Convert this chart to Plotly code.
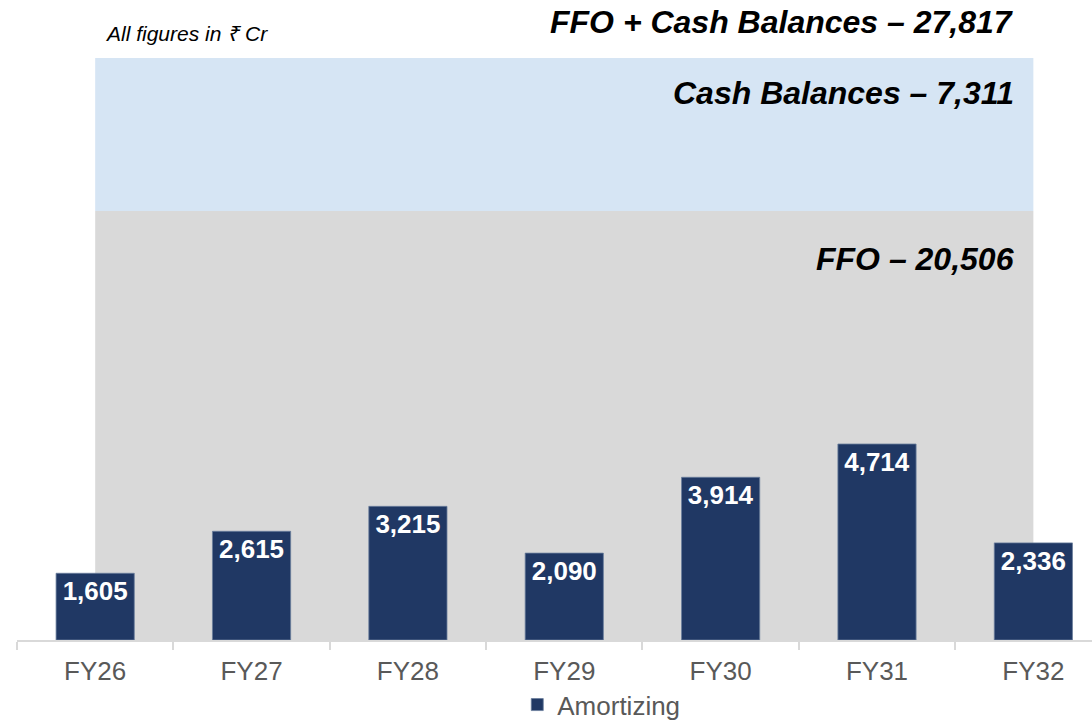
import plotly.graph_objects as go

# ---- data ----
categories = ["FY26", "FY27", "FY28", "FY29", "FY30", "FY31", "FY32"]
amortizing = [1605, 2615, 3215, 2090, 3914, 4714, 2336]
series_name = "Amortizing"
ffo_label = "FFO – 20,506"
cash_label = "Cash Balances – 7,311"
total_label = "FFO + Cash Balances – 27,817"
unit_note = "All figures in ₹ Cr"

FONT = "Liberation Sans, Arial, Helvetica, sans-serif"
BAR = "#203864"
GREY_BAND = "#d9d9d9"
BLUE_BAND = "#d6e5f4"
TXT = "#595959"

fig = go.Figure()
fig.add_trace(go.Bar(
    x=categories, y=amortizing, name=series_name,
    width=0.5,
    marker=dict(color=BAR, line=dict(color="#6a7d9c", width=0.8)),
    texttemplate="<b>%{y:,}</b>",
    textposition="inside", insidetextanchor="end",
    constraintext="none",
    textfont=dict(color="white", size=26, family=FONT),
    showlegend=True,
    hoverinfo="skip",
))

band_split = 0.737  # boundary between FFO band and Cash band (paper units)

fig.add_shape(type="rect", xref="x", yref="paper", x0=0, x1=6, y0=0, y1=band_split,
              fillcolor=GREY_BAND, line=dict(width=0), layer="below")
fig.add_shape(type="rect", xref="x", yref="paper", x0=0, x1=6, y0=band_split, y1=1,
              fillcolor=BLUE_BAND, line=dict(width=0), layer="below")

label_x = 0.929
hdr_font = dict(family=FONT, size=32, color="black", weight="bold", style="italic")
fig.add_annotation(text=total_label, xref="paper", yref="paper", x=label_x, y=1.062,
                   xanchor="right", yanchor="middle", showarrow=False, font=hdr_font)
fig.add_annotation(text=cash_label, xref="paper", yref="paper", x=label_x, y=0.940,
                   xanchor="right", yanchor="middle", showarrow=False, font=hdr_font)
fig.add_annotation(text=ffo_label, xref="paper", yref="paper", x=label_x, y=0.654,
                   xanchor="right", yanchor="middle", showarrow=False, font=hdr_font)
fig.add_annotation(text=unit_note, xref="paper", yref="paper", x=0.08, y=1.042,
                   xanchor="left", yanchor="middle", showarrow=False,
                   font=dict(family=FONT, size=21, color="black", style="italic"))

fig.update_layout(
    width=1092, height=722,
    margin=dict(l=17, r=0, t=58, b=82),
    paper_bgcolor="white", plot_bgcolor="white",
    font=dict(family=FONT, color=TXT),
    bargap=0.5,
    legend=dict(orientation="h", xref="paper", x=0.5435, xanchor="center",
                yref="container", y=0.024, yanchor="middle",
                font=dict(family=FONT, size=26, color=TXT), bgcolor="rgba(0,0,0,0)"),
    xaxis=dict(type="category", range=[-0.5, 6.375], showline=True, linecolor="#d9d9d9",
               linewidth=1.5, ticks="outside", tickson="boundaries", ticklen=8,
               tickcolor="#d9d9d9", tickwidth=1.5, showgrid=False, zeroline=False,
               ticklabelstandoff=7, automargin=False,
               tickfont=dict(family=FONT, size=26, color=TXT), fixedrange=True),
    yaxis=dict(range=[0, 14000], visible=False, showgrid=False, zeroline=False, fixedrange=True),
)

fig.write_html("out.html", config={"displayModeBar": False})

# remove the browser's default page margin so the figure sits at the window origin
with open("out.html", "r", encoding="utf-8") as f:
    html = f.read()
html = html.replace("<body>", '<body style="margin:0;padding:0;">', 1)
with open("out.html", "w", encoding="utf-8") as f:
    f.write(html)
